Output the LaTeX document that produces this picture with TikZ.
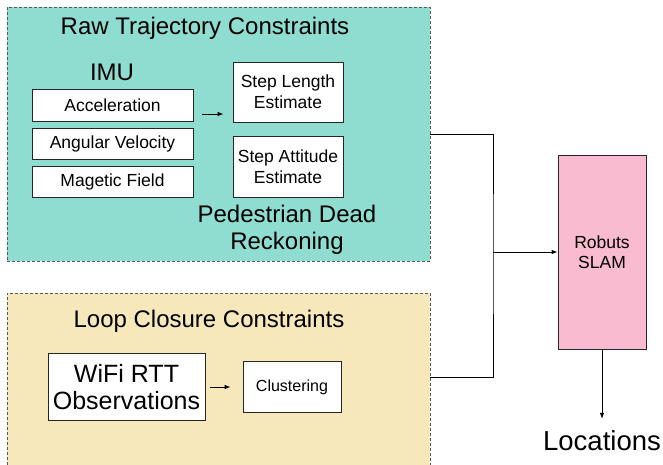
\documentclass[tikz,border=0pt]{standalone}
\usepackage{fontspec}
\setmainfont{Liberation Sans}
\usepackage{xcolor}
\definecolor{trajgreen}{RGB}{142,221,208}
\definecolor{loopyellow}{RGB}{247,232,188}
\definecolor{slampink}{RGB}{248,187,208}
\usetikzlibrary{arrows.meta}

\begin{document}
\begin{tikzpicture}[x=1pt, y=-1pt,
        group/.style={draw=black!65, dash pattern=on 3pt off 2pt, line width=0.8pt, inner sep=0},
        box/.style={draw=black!85, fill=white, line width=0.8pt, inner sep=0, align=center},
        head/.style={font=\fontsize{24}{27}\selectfont, inner sep=0, align=center},
        small/.style={font=\fontsize{17.5}{20.7}\selectfont},
        arr/.style={-{Latex[length=6pt, width=4.5pt]}, line width=0.8pt}
    ]
    \clip (0,0) rectangle (663,464);

    % raw trajectory constraints
    \node [group, fill=trajgreen, minimum width=423, minimum height=254] (raw) at (218.5,134) {};
    \node [head, anchor=base] (rawtitle) at (205,34) {Raw Trajectory Constraints};
    \node [head, anchor=base] (imu) at (112,80) {IMU};
    \node [box, small, minimum width=161, minimum height=32] (acc) at (112.5,105) {Acceleration};
    \node [box, small, minimum width=161, minimum height=31] (gyro) at (112.5,143.5) {Angular Velocity};
    \node [box, small, minimum width=161, minimum height=31] (mag) at (112.5,181.5) {Magetic Field};
    \node [box, small, minimum width=110, minimum height=60] (steplen) at (288,92) {Step Length\\Estimate};
    \node [box, small, minimum width=110, minimum height=61] (stepatt) at (288,166.5) {Step Attitude\\Estimate};
    \node [head] (pdr) at (287,230) {Pedestrian Dead\\Reckoning};
    \draw [arr] ([shift={(9,9)}]acc.east) -- ([shift={(-9,22)}]steplen.west);

    % loop closure constraints
    \node [group, fill=loopyellow, minimum width=423, minimum height=180] (loop) at (218.5,383) {};
    \node [head, anchor=base] (looptitle) at (209,327) {Loop Closure Constraints};
    \node [box, font=\fontsize{25}{26.5}\selectfont, minimum width=157, minimum height=67] (wifi) at (126.5,387) {WiFi RTT\\Observations};
    \node [box, font=\fontsize{16}{19}\selectfont, minimum width=98, minimum height=51] (clust) at (292,387) {Clustering};
    \draw [arr] ([xshift=5pt]wifi.east) -- ([xshift=-12pt]clust.west);

    % slam
    \node [box, fill=slampink, font=\fontsize{17.5}{20}\selectfont, minimum width=88, minimum height=194] (slam) at (602,252) {Robuts\\SLAM};
    \node [font=\fontsize{27.5}{30}\selectfont, inner sep=0, anchor=base] (loc) at (602,450) {Locations};
    \coordinate (join) at (493,252);

    \draw [line width=0.8pt] (raw.east) -| (join) |- ([yshift=-85pt]loop.north east);
    \draw [arr] (join) -- (slam.west);
    \draw [arr, shorten >=11pt] (slam.south) -- (loc.north);
\end{tikzpicture}
\end{document}
